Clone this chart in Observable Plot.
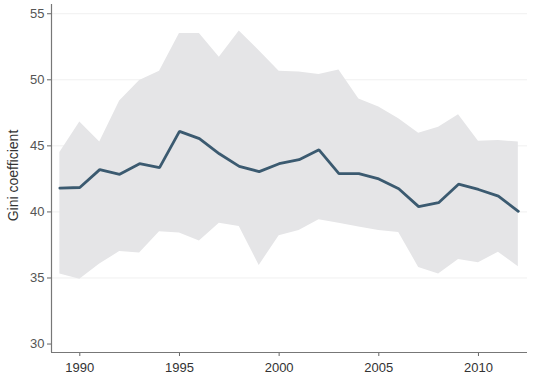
<!DOCTYPE html>
<html>
<head>
<meta charset="utf-8">
<script src="https://cdn.jsdelivr.net/npm/d3@7"></script>
<script src="https://cdn.jsdelivr.net/npm/@observablehq/plot@0.6"></script>
<style>
  html, body { margin: 0; padding: 0; background: #ffffff; }
  #chart svg { display: block; }
</style>
</head>
<body>
<div id="chart"></div>
<script>
const years = [1989,1990,1991,1992,1993,1994,1995,1996,1997,1998,1999,2000,2001,2002,2003,2004,2005,2006,2007,2008,2009,2010,2011,2012];
const gini  = [41.8,41.85,43.2,42.85,43.65,43.35,46.1,45.55,44.4,43.45,43.05,43.65,43.95,44.7,42.9,42.9,42.5,41.75,40.4,40.7,42.1,41.7,41.2,40.05];
const upper = [44.5,46.8,45.3,48.4,49.95,50.65,53.5,53.5,51.7,53.7,52.2,50.65,50.6,50.4,50.75,48.55,47.95,47.05,45.95,46.4,47.35,45.35,45.4,45.3];
const lower = [35.3,34.9,36.05,37.0,36.9,38.5,38.4,37.8,39.15,38.9,35.95,38.2,38.6,39.4,39.15,38.85,38.6,38.45,35.8,35.3,36.4,36.15,36.95,35.85];
const yTicks = [30,35,40,45,50,55];
const xTicks = [1990,1995,2000,2005,2010];
const gridLines = [35,40,45,50,55];
const yLabel = "Gini coefficient";

const data = years.map((y, i) => ({year: y, gini: gini[i], upper: upper[i], lower: lower[i]}));

const chart = Plot.plot({
  width: 550,
  height: 387,
  marginLeft: 51,
  marginRight: 23,
  marginTop: 4,
  marginBottom: 35,
  style: {fontFamily: "Liberation Sans, Arial, sans-serif", fontSize: "13px", color: "#333", background: "#ffffff"},
  x: {domain: [1988.58, 2012.46], ticks: xTicks, tickFormat: d => String(d), label: null},
  y: {domain: [29.36, 55.7], ticks: yTicks, label: null},
  marks: [
    Plot.ruleY(gridLines, {stroke: "#f0f0f0", strokeWidth: 1}),
    Plot.areaY(data, {x: "year", y1: "lower", y2: "upper", fill: "#e5e5e7"}),
    Plot.line(data, {x: "year", y: "gini", stroke: "#3b5a70", strokeWidth: 2.8, strokeLinejoin: "miter"}),
    Plot.axisX({ticks: xTicks, tickFormat: d => String(d), tickSize: 4, tickPadding: 6, stroke: "#666", fill: "#333", fontSize: 13, label: null}),
    Plot.axisY({ticks: yTicks, tickSize: 4, tickPadding: 3, stroke: "#666", fill: "#555", fontSize: 13, label: null}),
    Plot.ruleX([1988.58], {stroke: "#777", strokeWidth: 1.2}),
    Plot.ruleY([29.36], {stroke: "#777", strokeWidth: 1.2}),
    Plot.text([yLabel], {frameAnchor: "left", textAnchor: "middle", dx: -38, dy: -3, rotate: -90, fontSize: 14, fill: "#333", text: d => d})
  ]
});
document.getElementById("chart").appendChild(chart);
</script>
</body>
</html>
